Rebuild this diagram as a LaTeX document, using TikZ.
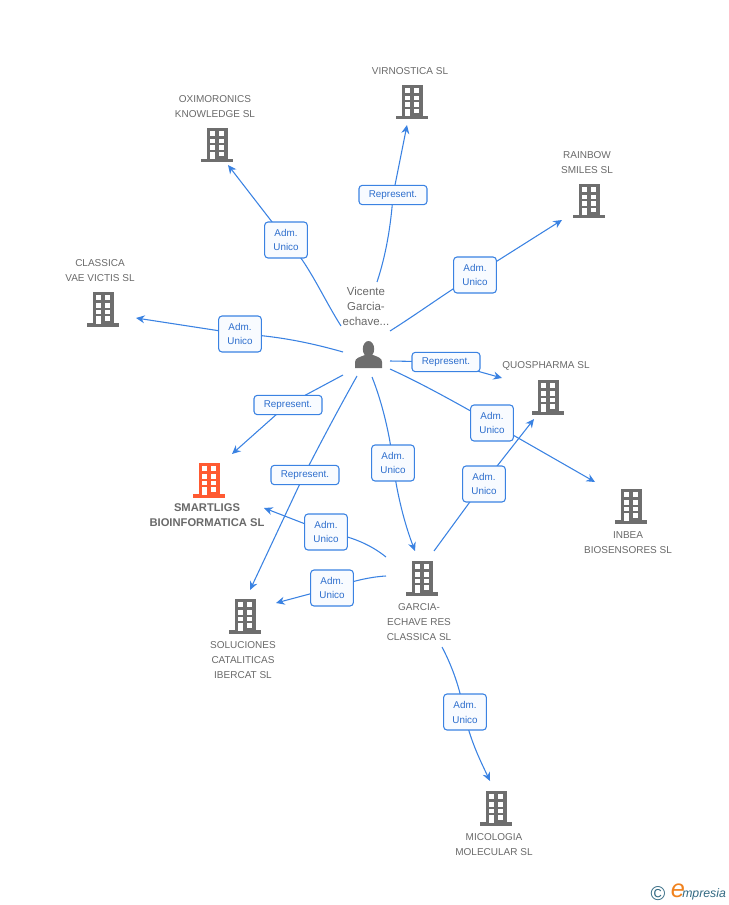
\documentclass[tikz,border=0pt]{standalone}
\usepackage{fontspec}
\setmainfont{Liberation Sans}
\usetikzlibrary{arrows.meta}
\definecolor{linkblue}{RGB}{58,130,226}
\definecolor{labelfill}{RGB}{248,251,255}
\definecolor{labeltext}{RGB}{45,110,205}
\definecolor{icongray}{RGB}{110,110,110}
\definecolor{textgray}{RGB}{105,105,105}
\definecolor{iconorange}{RGB}{255,90,50}
\definecolor{logoblue}{RGB}{50,105,130}
\definecolor{logoorange}{RGB}{240,130,30}
\tikzset{
  x=0.75pt,y=-0.75pt,
  link/.style={draw=linkblue,line width=0.8pt,-{Stealth[length=6.5pt,width=6pt]}},
  linklabel/.style={draw=linkblue,line width=0.8pt,rounded corners=2.5pt,fill=labelfill,text=labeltext,font=\fontsize{7.4}{11.2}\selectfont,align=center,inner sep=0pt},
  twoline/.style={linklabel,minimum width=32pt,minimum height=27pt},
  oneline/.style={linklabel,minimum height=14.5pt},
  caption/.style={text=textgray,font=\fontsize{7.5}{11.25}\selectfont,align=center,inner sep=0pt},
  anchorbox/.style={inner sep=0pt,minimum width=24pt,minimum height=25pt},
}
\newcommand{\bldg}[2]{%
  \begin{scope}[shift={(#1)}]
    \fill[#2] (-10.5,-17) rectangle (10.5,15);
    \fill[#2] (-16,14) rectangle (16,17.5);
    \foreach \yy/\hh in {-14/5,-6/4.5,0.5/4.5}{
      \fill[white] (-7,\yy) rectangle (-2,\yy+\hh);
      \fill[white] (2,\yy) rectangle (7,\yy+\hh);
    }
    \fill[white] (-7,7) rectangle (-2,14.5);
    \fill[white] (2,7) rectangle (7,11.5);
  \end{scope}}
\begin{document}
\begin{tikzpicture}
\useasboundingbox (0,0) rectangle (728,905);
% building anchors
\node[anchorbox] (virn) at (412,102) {};
\node[anchorbox] (oxi) at (217,145) {};
\node[anchorbox] (rain) at (589,201) {};
\node[anchorbox] (clas) at (103,309) {};
\node[anchorbox] (quos) at (548,397) {};
\node[anchorbox] (inbe) at (631,506) {};
\node[anchorbox] (smart) at (209,480) {};
\node[anchorbox] (garc) at (422,578) {};
\node[anchorbox] (solu) at (245,616) {};
\node[anchorbox] (mico) at (496,808) {};
\node[anchorbox] (pers) at (369,355) {};
% icons
\bldg{412,102}{icongray}
\bldg{217,145}{icongray}
\bldg{589,201}{icongray}
\bldg{103,309}{icongray}
\bldg{548,397}{icongray}
\bldg{631,506}{icongray}
\bldg{209,480}{iconorange}
\bldg{422,578}{icongray}
\bldg{245,616}{icongray}
\bldg{496,808}{icongray}
\fill[icongray] (368.5,349) ellipse (5.7 and 8);
\fill[icongray] (355,368) -- (355,362) .. controls (355,358) and (360,357) .. (365,355) -- (373,355) .. controls (378,357) and (382,358) .. (382,362) -- (382,368) -- cycle;
% captions
\node[caption] (tvirn) at (410,71) {VIRNOSTICA SL};
\node[caption] (toxi) at (215,106.5) {OXIMORONICS\\KNOWLEDGE SL};
\node[caption] (train) at (587,162.5) {RAINBOW\\SMILES SL};
\node[caption] (tclas) at (100,271) {CLASSICA\\VAE VICTIS SL};
\node[caption] (tquos) at (546,366) {QUOSPHARMA SL};
\node[caption] (tinbe) at (628,542.5) {INBEA\\BIOSENSORES SL};
\node[caption,font=\fontsize{8.4}{11.25}\selectfont\bfseries] (tsmart) at (207,515) {SMARTLIGS\\BIOINFORMATICA SL};
\node[caption] (tgarc) at (419,622) {GARCIA-\\ECHAVE RES\\CLASSICA SL};
\node[caption] (tsolu) at (243,660) {SOLUCIONES\\CATALITICAS\\IBERCAT SL};
\node[caption] (tmico) at (494,844.5) {MICOLOGIA\\MOLECULAR SL};
\node[caption,font=\fontsize{8.6}{11.25}\selectfont] (tpers) at (366,306.5) {Vicente\\Garcia-\\echave...};
% connector ends
\coordinate (aoxi) at (228,165); \coordinate (soxi) at (341,326);
\coordinate (avirn) at (407,125); \coordinate (svirn) at (377,282);
\coordinate (arain) at (562,220); \coordinate (srain) at (390,331);
\coordinate (aclas) at (136,318); \coordinate (sclas) at (343,352);
\coordinate (aquos) at (502,378); \coordinate (squos) at (390,361);
\coordinate (ainbe) at (595,482); \coordinate (sinbe) at (390,369);
\coordinate (asmart) at (232,454); \coordinate (ssmart) at (343,375);
\coordinate (asolu) at (250,590); \coordinate (ssolu) at (357,376);
\coordinate (agarc) at (415,551); \coordinate (sgarc) at (372,377);
\coordinate (aquo2) at (534,419); \coordinate (squo2) at (434,551);
\coordinate (asma2) at (264,508); \coordinate (ssma2) at (386,557);
\coordinate (asol2) at (276,603); \coordinate (ssol2) at (386,576);
\coordinate (amico) at (490,781); \coordinate (smico) at (442,647);
% connectors
\draw[link] (soxi) .. controls (322,296) and (308,262) .. (286,240) -- (aoxi);
\draw[link] (svirn) .. controls (386,255) and (391,225) .. (393,195) -- (avirn);
\draw[link] (srain) .. controls (420,312) and (450,290) .. (475,275) -- (arain);
\draw[link] (sclas) .. controls (315,344) and (280,336) .. (240,334) -- (aclas);
\draw[link] (squos) -- (445,362) -- (aquos);
\draw[link] (sinbe) .. controls (425,385) and (460,405) .. (492,423) -- (ainbe);
\draw[link] (ssmart) -- (287,405) -- (asmart);
\draw[link] (ssolu) .. controls (338,410) and (322,440) .. (304,475) -- (asolu);
\draw[link] (sgarc) .. controls (382,402) and (390,435) .. (393,463) .. controls (397,495) and (405,525) .. (agarc);
\draw[link] (squo2) -- (483,484) -- (aquo2);
\draw[link] (ssma2) .. controls (370,544) and (350,536) .. (326,532) -- (asma2);
\draw[link] (ssol2) .. controls (368,577) and (350,582) .. (332,588) -- (asol2);
\draw[link] (smico) .. controls (452,666) and (460,688) .. (464,712) .. controls (470,740) and (480,760) .. (amico);
% labels
\node[twoline] (loxi) at (286,240) {Adm.\\Unico};
\node[oneline,minimum width=51pt] (lvirn) at (393,195) {Represent.};
\node[twoline] (lrain) at (475,275) {Adm.\\Unico};
\node[twoline] (lclas) at (240,334) {Adm.\\Unico};
\node[oneline,minimum width=51pt] (lquos) at (446,362) {Represent.};
\node[twoline] (linbe) at (492,423) {Adm.\\Unico};
\node[oneline,minimum width=51pt] (lsmart) at (288,405) {Represent.};
\node[oneline,minimum width=51pt] (lsolu) at (305,475) {Represent.};
\node[twoline] (lgarc) at (393,463) {Adm.\\Unico};
\node[twoline] (lquo2) at (484,484) {Adm.\\Unico};
\node[twoline] (lsma2) at (326,532) {Adm.\\Unico};
\node[twoline] (lsol2) at (332,588) {Adm.\\Unico};
\node[twoline] (lmico) at (465,712) {Adm.\\Unico};
% logo
\node[inner sep=0pt,text=logoblue,font=\fontsize{15}{15}\selectfont] (logoc) at (658,894) {©};
\node[inner sep=0pt,text=logoorange,font=\fontsize{19}{19}\selectfont\itshape] (logoe) at (678,891) {e};
\node[inner sep=0pt,anchor=west,text=logoblue,font=\fontsize{9.2}{10}\selectfont\itshape] (logot) at (682,894.5) {mpresia};
\end{tikzpicture}
\end{document}
